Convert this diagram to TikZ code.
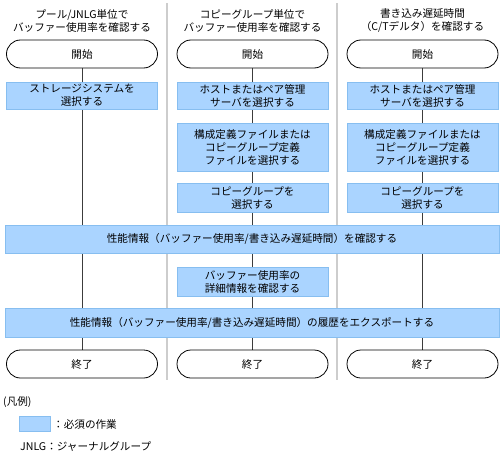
\documentclass[tikz,border=0pt]{standalone}
\usepackage{fontspec}
\setmainfont{Noto Sans CJK JP}
\usetikzlibrary{backgrounds}
\definecolor{taskfill}{RGB}{170,212,255}
\definecolor{taskline}{RGB}{135,190,240}
\definecolor{divgray}{RGB}{205,205,205}
\definecolor{flowline}{RGB}{60,60,60}
\tikzset{
  base/.style={font=\fontsize{10.6}{13}\selectfont, align=center, inner sep=0pt},
  task/.style={base, fill=taskfill, draw=taskline, line width=0.8pt, minimum width=151pt},
  wide/.style={task, minimum width=494pt},
  term/.style={base, draw=black, line width=0.8pt, fill=white, rounded corners=14pt, minimum width=151pt, minimum height=28pt},
  hdr/.style={base},
  flow/.style={draw=flowline, line width=0.9pt},
  divider/.style={draw=divgray, line width=1.5pt},
}
\begin{document}
\begin{tikzpicture}[x=1pt,y=-1pt]
\useasboundingbox (0,0) rectangle (501,455);
% headers
\node[hdr] (h1) at (82,20.5) {プール/JNLG単位で\\バッファー使用率を確認する};
\node[hdr] (h2) at (252.5,20.5) {コピーグループ単位で\\バッファー使用率を確認する};
\node[hdr] (h3) at (422.5,20.5) {書き込み遅延時間\\（C/Tデルタ）を確認する};
% start
\node[term] (s1) at (82,54) {開始};
\node[term] (s2) at (252.5,54) {開始};
\node[term] (s3) at (422.5,54) {開始};
% column tasks
\node[task, minimum height=27pt] (a1) at (82,95.5) {ストレージシステムを\\選択する};
\node[task, minimum height=27pt] (b1) at (252.5,95.5) {ホストまたはペア管理\\サーバを選択する};
\node[task, minimum height=27pt] (c1) at (422.5,95.5) {ホストまたはペア管理\\サーバを選択する};
\node[task, minimum height=48pt] (b2) at (252.5,147) {構成定義ファイルまたは\\コピーグループ定義\\ファイルを選択する};
\node[task, minimum height=48pt] (c2) at (422.5,147) {構成定義ファイルまたは\\コピーグループ定義\\ファイルを選択する};
\node[task, minimum height=29pt] (b3) at (252.5,197.5) {コピーグループを\\選択する};
\node[task, minimum height=29pt] (c3) at (422.5,197.5) {コピーグループを\\選択する};
\node[wide, minimum height=28pt] (w1) at (252,239) {性能情報（バッファー使用率/書き込み遅延時間）を確認する};
\node[task, minimum height=29pt] (b4) at (252.5,281.5) {バッファー使用率の\\詳細情報を確認する};
\node[wide, minimum height=29pt] (w2) at (252,322.5) {性能情報（バッファー使用率/書き込み遅延時間）の履歴をエクスポートする};
% end
\node[term] (e1) at (82,364) {終了};
\node[term] (e2) at (252.5,364) {終了};
\node[term] (e3) at (422.5,364) {終了};
% legend
\node[base, anchor=west] (lg) at (3,402) {(凡例)};
\node[task, minimum width=31pt, minimum height=15pt] (lgbox) at (34.5,423.5) {};
\node[base, anchor=west] (lgtxt) at (53,424) {：必須の作業};
\node[base, anchor=west] (lgj) at (20,447) {JNLG：ジャーナルグループ};
\begin{scope}[on background layer]
\path[divider] (167,3) -- (167,380);
\path[divider] (337,3) -- (337,380);
\path[flow] (s1.south) -- (e1.north);
\path[flow] (s2.south) -- (e2.north);
\path[flow] (s3.south) -- (e3.north);
\end{scope}
\end{tikzpicture}
\end{document}
